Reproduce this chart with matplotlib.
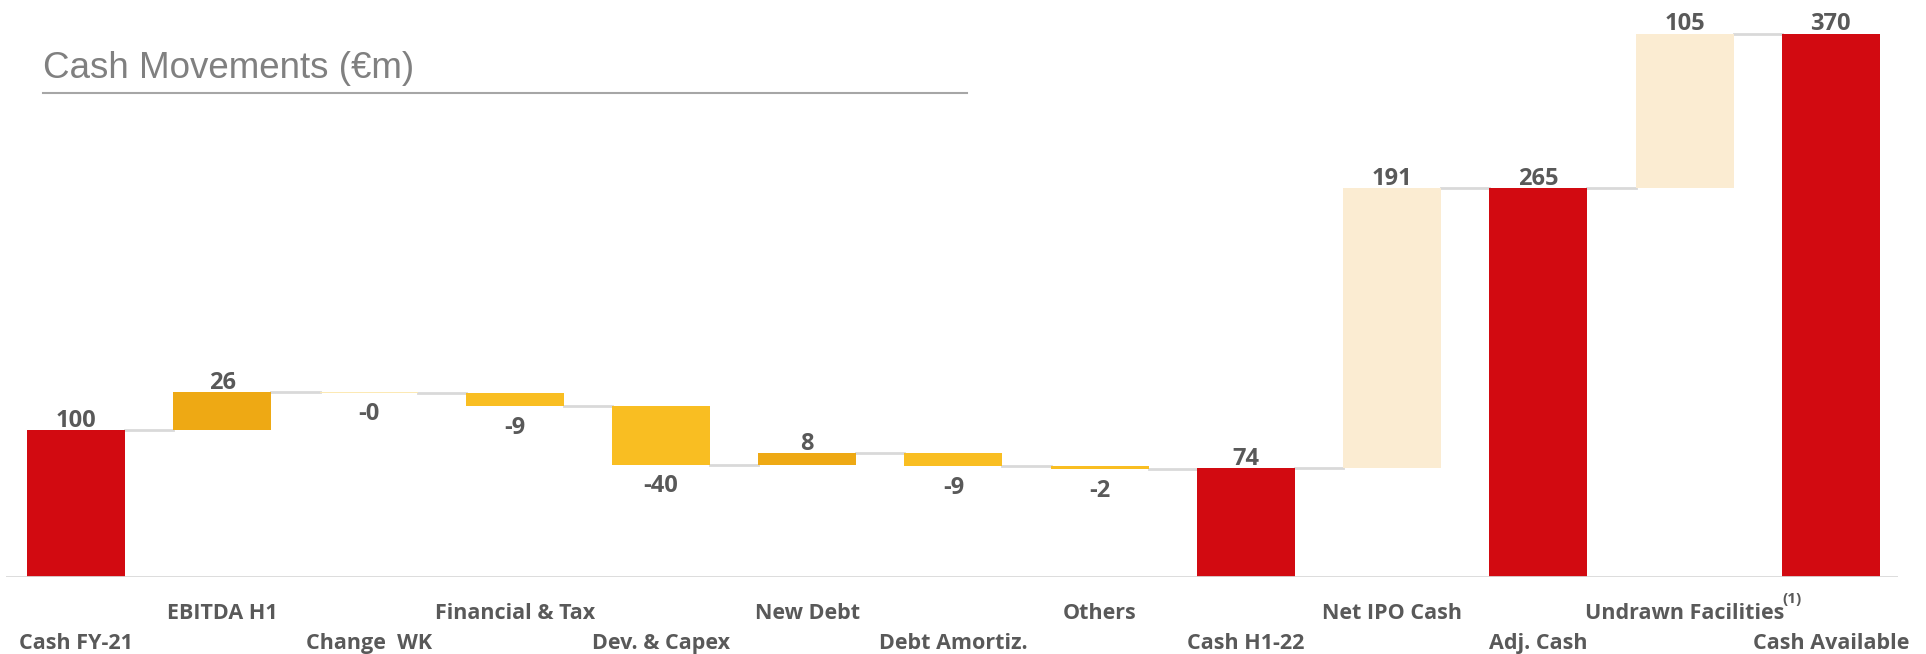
import numpy as np
import matplotlib
matplotlib.use("Agg")
import matplotlib.pyplot as plt

# data
categories = ["Cash FY-21", "EBITDA H1", "Change  WK", "Financial & Tax", "Dev. & Capex",
              "New Debt", "Debt Amortiz.", "Others", "Cash H1-22", "Net IPO Cash",
              "Adj. Cash", "Undrawn Facilities", "Cash Available"]
values = [100, 26, -0.5, -9, -40, 8, -9, -2, 74, 191, 265, 105, 370]
labels = ["100", "26", "-0", "-9", "-40", "8", "-9", "-2", "74", "191", "265", "105", "370"]
kinds = ["total", "up", "down", "down", "down", "up", "down", "down", "total",
         "extra", "total", "extra", "total"]

colors = {"total": "#D20A11", "up": "#EEA914", "down": "#F9BE22", "extra": "#FBECD2"}
txt_col = "#595959"
bold_font = "Open Sans"

fig = plt.figure(figsize=(19.26, 6.54), dpi=100)
ax = fig.add_axes([6/1926, 77/654, (1898-6)/1926, (577-10)/654])

# compute bottoms / tops
bottoms, heights, running = [], [], 0
for v, k in zip(values, kinds):
    if k == "total":
        bottoms.append(0); heights.append(v); running = v
    else:
        bottoms.append(running if v >= 0 else running + v)
        heights.append(abs(v)); running += v

x = np.arange(len(values))
w = 0.67
bar_cols = [colors[k] for k in kinds]
bar_cols[2] = "#FCE9B4"
ax.bar(x, heights, bottom=bottoms, width=w, color=bar_cols, zorder=2)

# connectors
for i in range(len(values) - 1):
    lvl = bottoms[i] + heights[i] if (kinds[i] == "total" or values[i] >= 0) else bottoms[i]
    ax.plot([x[i] + w/2, x[i+1] - w/2], [lvl, lvl], color="#D9D9D9", lw=2, zorder=1)

# value labels
for i, (v, k) in enumerate(zip(values, kinds)):
    if k == "total" or v >= 0:
        ax.annotate(labels[i], (x[i], bottoms[i] + heights[i]), xytext=(0, -2),
                    textcoords="offset points", ha="center", va="bottom",
                    fontsize=17, fontweight="bold", color=txt_col, family=bold_font)
    else:
        ax.annotate(labels[i], (x[i], bottoms[i]), xytext=(0, -7),
                    textcoords="offset points", ha="center", va="top",
                    fontsize=17, fontweight="bold", color=txt_col, family=bold_font)

# category labels, staggered
for i, c in enumerate(categories):
    y = -25 if i % 2 else -45.5
    t = ax.text(x[i], y, c, ha="center", va="center", fontsize=15.5, fontweight="bold",
                color=txt_col, family=bold_font, clip_on=False)
    if c.startswith("Undrawn"):
        ax.annotate("(1)", xy=(1, 1), xycoords=t, xytext=(-1, 3), textcoords="offset points",
                    ha="left", va="center", fontsize=11, fontweight="bold", color=txt_col,
                    family=bold_font)

ax.axhline(0, color="#D9D9D9", lw=2, zorder=3)
ax.set_xlim(-0.48, 12.46)
ax.set_ylim(0, 386)
ax.axis("off")

# title with underline
fig.text(43/1926, 1 - 68/654, "Cash Movements (€m)", fontsize=26.5, color="#808080",
         family="Liberation Sans", va="center", ha="left")
fig.add_artist(plt.Line2D([43/1926, 967/1926], [1 - 93/654, 1 - 93/654],
                          color="#A6A6A6", lw=1.5))

fig.savefig("out.png", dpi=100)
